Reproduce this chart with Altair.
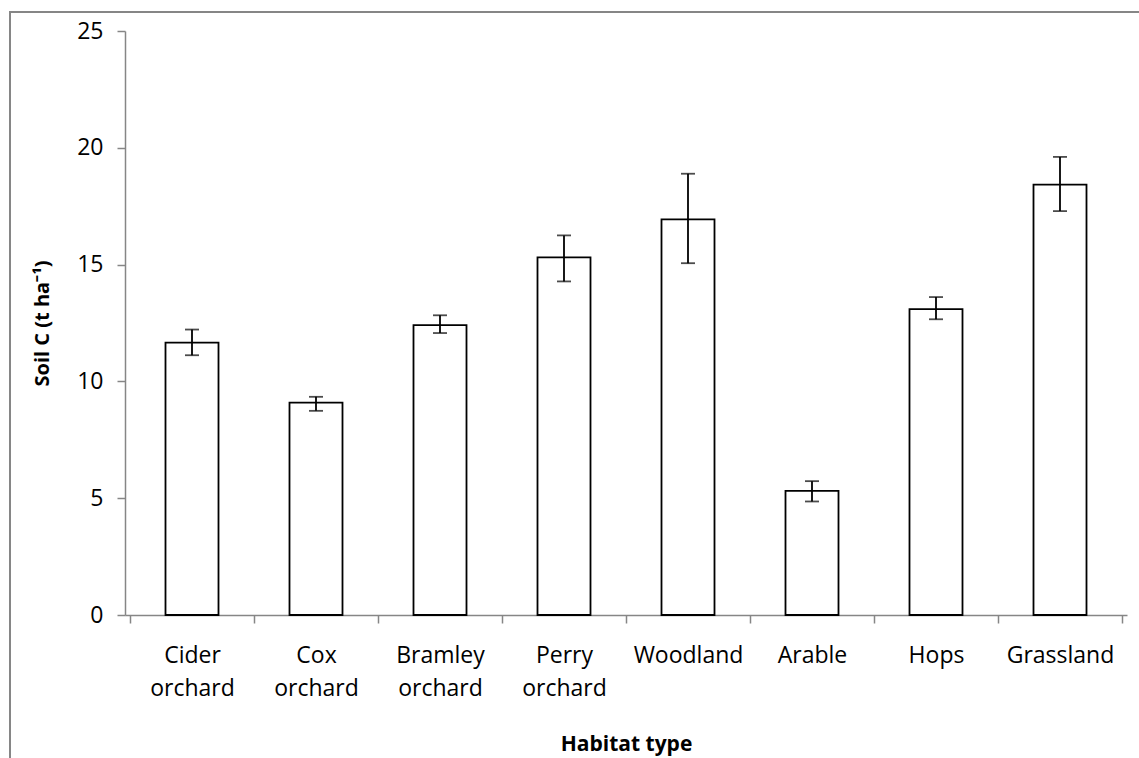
import json
import altair as alt
import pandas as pd

categories = ["Cider orchard", "Cox orchard", "Bramley orchard", "Perry orchard",
              "Woodland", "Arable", "Hops", "Grassland"]
soil_c = [11.66, 9.09, 12.41, 15.31, 16.94, 5.31, 13.09, 18.42]
err_low = [11.12, 8.74, 12.07, 14.28, 15.06, 4.86, 12.66, 17.29]
err_high = [12.22, 9.34, 12.83, 16.25, 18.89, 5.73, 13.61, 19.61]
y_ticks = [0, 5, 10, 15, 20, 25]

df = pd.DataFrame({
    "habitat": categories,
    "soil": soil_c,
    "lo": err_low,
    "hi": err_high,
})
df["pos"] = df.index + 0.5

n = len(categories)
FONT = "Open Sans"
GRAY = "#868686"
W, H = 1002, 584

x_scale = alt.Scale(domain=[0, n], nice=False, zero=False)
y_scale = alt.Scale(domain=[0, 25], nice=False)
y_axis = alt.Axis(values=y_ticks, title="Soil C (t ha⁻¹)", grid=False,
                  tickSize=8, tickColor=GRAY, domainColor=GRAY, domainWidth=1.5,
                  tickWidth=1.5, labelFontSize=23, labelFont=FONT, labelColor="black",
                  labelPadding=14, titleFont=FONT, titleFontSize=20, titleFontWeight="bold",
                  titleColor="black", titlePadding=24)

names_js = json.dumps([c.split(" ") for c in categories])
label_axis = alt.Axis(values=list(df["pos"]), labelExpr=f"{names_js}[floor(datum.value)]",
                      ticks=False, tickSize=0, domainColor=GRAY, domainWidth=1.5,
                      labelFontSize=23, labelFont=FONT, labelColor="black",
                      labelPadding=29, labelLineHeight=33, labelFlush=False,
                      labelOverlap=False, grid=False, title="Habitat type",
                      titleFont=FONT, titleFontSize=21, titleFontWeight="bold",
                      titleColor="black", titlePadding=33, orient="bottom")
tick_axis = alt.Axis(values=list(range(n + 1)), labels=False, domain=False, ticks=True,
                     tickSize=8, tickColor=GRAY, tickWidth=1.5, grid=False, title=None,
                     orient="bottom")

base = alt.Chart(df)

bars = base.mark_bar(size=53, fill="white", stroke="black", strokeWidth=1.8).encode(
    x=alt.X("pos:Q", scale=x_scale, axis=label_axis),
    y=alt.Y("soil:Q", scale=y_scale, axis=y_axis),
)

rules = base.mark_rule(color="black", strokeWidth=1.8).encode(
    x=alt.X("pos:Q", scale=x_scale, axis=tick_axis),
    y=alt.Y("lo:Q", scale=y_scale, axis=y_axis),
    y2="hi:Q",
)

cap_lo = base.mark_tick(orient="horizontal", size=14, thickness=1.8, color="black").encode(
    x=alt.X("pos:Q", scale=x_scale, axis=None),
    y=alt.Y("lo:Q", scale=y_scale, axis=y_axis),
)
cap_hi = base.mark_tick(orient="horizontal", size=14, thickness=1.8, color="black").encode(
    x=alt.X("pos:Q", scale=x_scale, axis=None),
    y=alt.Y("hi:Q", scale=y_scale, axis=y_axis),
)

frame = alt.Chart(pd.DataFrame({"a": [0]})).mark_rect(
    fill=None, stroke=GRAY, strokeWidth=2).encode(
    x=alt.value(-115), x2=alt.value(W + 60), y=alt.value(-19), y2=alt.value(H + 200)
)

chart = alt.layer(frame, bars, rules, cap_lo, cap_hi).resolve_axis(
    x="independent"
).properties(
    width=W, height=H,
    autosize=alt.AutoSizeParams(type="none"),
    padding={"left": 125, "top": 31, "right": 12, "bottom": 143},
    background="white",
).configure_view(stroke=None)

chart.save("out.html", embed_options={"renderer": "svg", "actions": False})
